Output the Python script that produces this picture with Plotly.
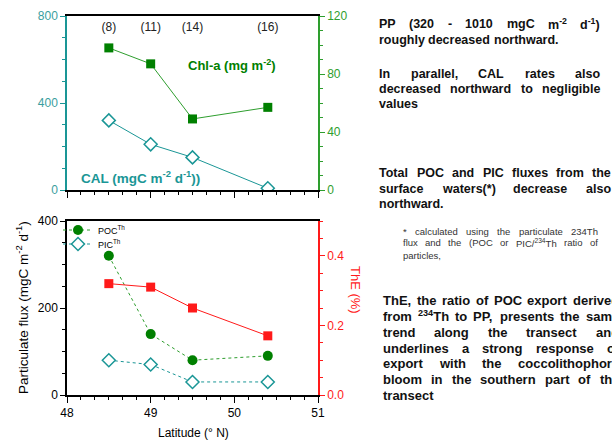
import plotly.graph_objects as go

# ---------------- data ----------------
lat = [48.5, 49.0, 49.5, 50.4]
station_labels = ["(8)", "(11)", "(14)", "(16)"]
chla = [98, 87, 49, 57]          # mg m-2 (right axis, top)
cal = [320, 210, 150, 8]         # mgC m-2 d-1 (left axis, top)
poc = [320, 140, 80, 90]         # mgC m-2 d-1 (bottom)
pic = [80, 70, 30, 30]           # mgC m-2 d-1 (bottom)
the = [0.32, 0.31, 0.25, 0.17]   # ThE (right axis, bottom)

TEAL = "#1a9696"
TEAL_TXT = "#3a9e9e"
GREEN = "#008000"
GREEN_LINE = "#2e9e2e"
RED = "#ff1a1a"
W, H = 612, 441
OFF = 0  # page body margin removed by post_script
FONT = "Arial, Liberation Sans, sans-serif"

def px_x(x):
    return (x - OFF) / W

def px_y(y):
    return 1 - (y - OFF) / H

fig = go.Figure()

# top panel
fig.add_trace(go.Scatter(x=lat, y=cal, mode="lines+markers", xaxis="x", yaxis="y",
                         line=dict(color=TEAL, width=1),
                         marker=dict(symbol="diamond", size=10, color="white",
                                     line=dict(color=TEAL, width=1.5)),
                         showlegend=False))
fig.add_trace(go.Scatter(x=lat, y=chla, mode="lines+markers", xaxis="x", yaxis="y2",
                         line=dict(color=GREEN_LINE, width=1),
                         marker=dict(symbol="square", size=9, color=GREEN),
                         showlegend=False))
fig.add_trace(go.Scatter(x=lat, y=[745] * len(lat), mode="text", text=station_labels,
                         xaxis="x", yaxis="y", textfont=dict(size=12, color="#222", family=FONT),
                         showlegend=False, hoverinfo="skip"))

# bottom panel
fig.add_trace(go.Scatter(x=lat, y=the, mode="lines+markers", xaxis="x2", yaxis="y4",
                         line=dict(color=RED, width=1),
                         marker=dict(symbol="square", size=9, color=RED),
                         showlegend=False))
fig.add_trace(go.Scatter(x=lat, y=poc, mode="lines+markers", xaxis="x2", yaxis="y3",
                         name="POC<sup>Th</sup>", legend="legend",
                         line=dict(color=GREEN_LINE, width=1, dash="dot"),
                         marker=dict(symbol="circle", size=10, color=GREEN)))
fig.add_trace(go.Scatter(x=lat, y=pic, mode="lines+markers", xaxis="x2", yaxis="y3",
                         name="PIC<sup>Th</sup>", legend="legend2",
                         line=dict(color=TEAL, width=1, dash="dot"),
                         marker=dict(symbol="diamond", size=10, color="white",
                                     line=dict(color=TEAL, width=1.5))))

xdom = [px_x(67), px_x(318)]
top_dom = [px_y(190), px_y(16)]
bot_dom = [px_y(395), px_y(221)]

common_x = dict(range=[48, 51], dtick=1, tick0=48, ticks="outside", ticklen=6,
                tickcolor="black", showline=True, linecolor="black", linewidth=1.5,
                mirror=True, showgrid=False, zeroline=False, automargin=False,
                minor=dict(dtick=1 / 6, tick0=48, ticks="outside", ticklen=3, tickcolor="black"),
                domain=xdom)

legend_common = dict(xanchor="left", yanchor="middle", bgcolor="rgba(0,0,0,0)",
                     font=dict(size=9), itemwidth=30, borderwidth=0)

fig.update_layout(
    width=W, height=H, margin=dict(l=0, r=0, t=0, b=0, pad=0), autosize=False,
    paper_bgcolor="white", plot_bgcolor="white",
    font=dict(family=FONT, size=12, color="black"),
    xaxis=dict(common_x, anchor="y", showticklabels=False),
    yaxis=dict(domain=top_dom, anchor="x", range=[0, 800], dtick=400, ticks="outside",
               ticklen=5, tickcolor=TEAL, showline=True, linecolor=TEAL, linewidth=1.5,
               showgrid=False, zeroline=False, tickfont=dict(color=TEAL_TXT, size=12),
               automargin=False,
               minor=dict(dtick=100, ticks="outside", ticklen=3, tickcolor=TEAL)),
    yaxis2=dict(overlaying="y", side="right", anchor="x", range=[0, 120], dtick=40,
                ticks="outside", ticklen=5, tickcolor=GREEN_LINE, showline=True,
                linecolor=GREEN_LINE, linewidth=1.5, showgrid=False, zeroline=False,
                tickfont=dict(color=GREEN_LINE, size=12), automargin=False,
                minor=dict(dtick=10, ticks="outside", ticklen=3, tickcolor=GREEN_LINE)),
    xaxis2=dict(common_x, anchor="y3", showticklabels=True, tickfont=dict(size=12)),
    yaxis3=dict(domain=bot_dom, anchor="x2", range=[0, 400], dtick=200, ticks="outside",
                ticklen=5, tickcolor="black", showline=True, linecolor="black", linewidth=1.5,
                showgrid=False, zeroline=False, tickfont=dict(size=12), automargin=False,
                minor=dict(dtick=50, ticks="outside", ticklen=3, tickcolor="black")),
    yaxis4=dict(overlaying="y3", side="right", anchor="x2", range=[0, 0.5], dtick=0.2,
                tickformat=".1f", ticks="outside", ticklen=5, tickcolor=RED, showline=True,
                linecolor=RED, linewidth=1.5, showgrid=False, zeroline=False,
                tickfont=dict(color=RED, size=12), automargin=False,
                minor=dict(dtick=0.05, ticks="outside", ticklen=3, tickcolor=RED)),
    legend=dict(legend_common, x=px_x(58), y=px_y(230)),
    legend2=dict(legend_common, x=px_x(58), y=px_y(244)),
)

ann = []
def add_text(text, x, y, size, color, xanchor="left", angle=0):
    ann.append(dict(text=text, x=px_x(x), y=px_y(y), xref="paper", yref="paper",
                    xanchor=xanchor, yanchor="middle", showarrow=False, textangle=angle,
                    borderpad=0, borderwidth=0, font=dict(color=color, size=size)))

add_text("<b>Chl-a (mg m<sup>-2</sup>)</b>", 188, 65, 13, GREEN)
add_text("<b>CAL (mgC m<sup>-2</sup> d<sup>-1</sup>))</b>", 81, 177, 13.5, TEAL)
add_text("ThE (%)", 356, 290, 13, RED, xanchor="center", angle=90)
add_text("Latitude (° N)", 193, 433, 12, "black", xanchor="center")
add_text("Particulate flux (mgC m<sup>-2</sup> d<sup>-1</sup>)", 22, 308, 13.5, "black",
         xanchor="center", angle=-90)

# --- justified side text ---
BOLD_W = {' ': 278, 'a': 556, 'b': 611, 'c': 556, 'd': 611, 'e': 556, 'f': 333, 'g': 611,
          'h': 611, 'i': 278, 'j': 278, 'k': 556, 'l': 278, 'm': 889, 'n': 611, 'o': 611,
          'p': 611, 'q': 611, 'r': 389, 's': 556, 't': 333, 'u': 611, 'v': 556, 'w': 778,
          'x': 556, 'y': 556, 'z': 500, 'A': 722, 'C': 722, 'E': 667, 'I': 278, 'L': 611,
          'O': 778, 'P': 667, 'T': 611, '(': 333, ')': 333, '-': 333, ',': 278,
          '.': 278, '*': 389}
REG_W = {' ': 278, 'a': 556, 'b': 556, 'c': 500, 'd': 556, 'e': 556, 'f': 278, 'g': 556,
         'h': 556, 'i': 222, 'j': 222, 'k': 500, 'l': 222, 'm': 833, 'n': 556, 'o': 556,
         'p': 556, 'q': 556, 'r': 333, 's': 500, 't': 278, 'u': 556, 'v': 500, 'w': 722,
         'x': 500, 'y': 500, 'z': 500, 'C': 722, 'I': 278, 'O': 778, 'P': 667, 'T': 611,
         '(': 333, ')': 333, '-': 333, ',': 278, '.': 278, '*': 389, '/': 278}

def word_width(word, size, bold):
    table = BOLD_W if bold else REG_W
    total = 0.0
    scale = 1.0
    i = 0
    while i < len(word):
        if word.startswith("<sup>", i):
            scale = 0.7
            i += 5
            continue
        if word.startswith("</sup>", i):
            scale = 1.0
            i += 6
            continue
        total += table.get(word[i], 556) * scale
        i += 1
    return total * size / 1000.0

def add_line(words, x0, x1, y, size, bold, color, justify=True):
    widths = [word_width(w, size, bold) for w in words]
    if justify and len(words) > 1:
        gap = (x1 - x0 - sum(widths)) / (len(words) - 1)
    else:
        gap = word_width(" ", size, bold)
    x = x0
    for w, wd in zip(words, widths):
        t = "<b>" + w + "</b>" if bold else w
        add_text(t, x, y, size, color)
        x += wd + gap

block1 = [
    ("PP (320 - 1010 mgC m<sup>-2</sup> d<sup>-1</sup>)", 24, True),
    ("roughly decreased northward.", 40, False),
    ("In parallel, CAL rates also", 74, True),
    ("decreased northward to negligible", 89, True),
    ("values", 104, False),
    ("Total POC and PIC fluxes from the", 173, True),
    ("surface waters(*) decrease also", 189, True),
    ("northward.", 204, False),
]
for i, (txt, y, just) in enumerate(block1):
    x1 = 611 if i >= 5 else 600
    add_line(txt.split(" "), 379, x1, y, 12.5, True, "#111", just)

block2 = [
    ("* calculated using the particulate 234Th", 231, True),
    ("flux and the (POC or PIC/<sup>234</sup>Th ratio of", 243, True),
    ("particles,", 255, False),
]
for txt, y, just in block2:
    add_line(txt.split(" "), 403, 598, y, 9.5, False, "#333", just)

block3 = [
    ("ThE, the ratio of POC export derived", 300, True),
    ("from <sup>234</sup>Th to PP, presents the same", 316, True),
    ("trend along the transect and", 332, True),
    ("underlines a strong response of", 348, True),
    ("export with the coccolithophore", 363, True),
    ("bloom in the southern part of the", 379, True),
    ("transect", 395, False),
]
for txt, y, just in block3:
    add_line(txt.split(" "), 383, 619, y, 13, True, "#111", just)

fig.update_layout(annotations=ann)

fig.write_html("out.html", config={"displayModeBar": False},
               post_script="document.body.style.margin='0px';document.body.style.overflow='hidden';")
